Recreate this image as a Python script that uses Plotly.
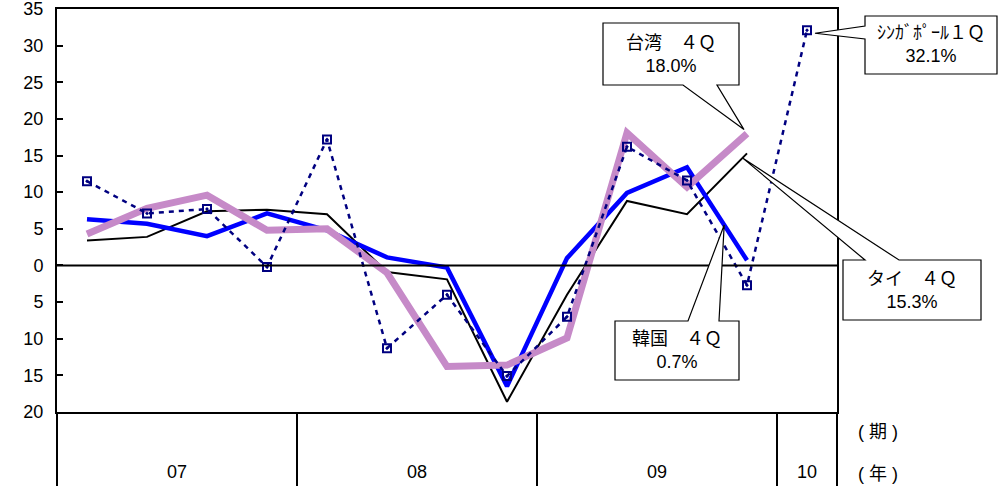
import plotly.graph_objects as go

# ---- data ----
years = ["07", "08", "09", "10"]
quarters_per_year = [4, 4, 4, 1]
thailand = [3.4, 3.9, 7.4, 7.6, 7.0, -0.9, -1.9, -18.6, -4.0, 8.8, 7.0, 15.3]
korea = [6.3, 5.7, 4.0, 7.1, 4.8, 1.1, -0.3, -16.5, 1.0, 9.9, 13.4, 0.7]
taiwan = [4.3, 7.8, 9.6, 4.8, 5.0, -1.0, -13.8, -13.6, -9.9, 18.1, 10.7, 18.0]
singapore = [11.5, 7.1, 7.7, -0.2, 17.2, -11.3, -4.0, -15.1, -7.0, 16.2, 11.6, -2.7, 32.1]
y_ticks = list(range(-20, 40, 5))
y_ticktext = [str(abs(v)) for v in y_ticks]

W, H = 998, 488
ML, MT = 57, 9
PW, PH = 780, 403
MR, MB = W - ML - PW, H - MT - PH
NQ = sum(quarters_per_year)
YMIN, YMAX = -20, 35

FONT = "Liberation Sans, Arial, Noto Sans CJK JP, sans-serif"

fig = go.Figure()
xi = lambda n: list(range(n))
fig.add_trace(go.Scatter(x=xi(len(thailand)), y=thailand, mode="lines",
                         line=dict(color="black", width=2), name="タイ"))
fig.add_trace(go.Scatter(x=xi(len(korea)), y=korea, mode="lines",
                         line=dict(color="#0000FF", width=4.5), name="韓国"))
fig.add_trace(go.Scatter(x=xi(len(taiwan)), y=taiwan, mode="lines",
                         line=dict(color="#C68AC8", width=7), name="台湾"))
fig.add_trace(go.Scatter(x=xi(len(singapore)), y=singapore, mode="lines+markers",
                         line=dict(color="#000080", width=2.5, dash="5px,5px"),
                         marker=dict(symbol="square-open-dot", size=8, color="#000080",
                                     line=dict(width=2, color="#000080")),
                         name="シンガポール"))

# helpers: screen pixel -> paper, data -> screen pixel
def ppx(x):
    return (x - ML) / PW

def ppy(y):
    return (MT + PH - y) / PH

def dx(i):
    return ML + (i + 0.5) / NQ * PW

def dy(v):
    return MT + (YMAX - v) / (YMAX - YMIN) * PH

shapes = []
shapes.append(dict(type="line", xref="paper", yref="y", x0=0, x1=1, y0=0, y1=0,
                   line=dict(color="black", width=2)))
bounds = [0]
for q in quarters_per_year:
    bounds.append(bounds[-1] + q)
for b in bounds:
    xp = b / NQ
    shapes.append(dict(type="line", xref="paper", yref="paper", x0=xp, x1=xp,
                       y0=0, y1=ppy(486), line=dict(color="black", width=2)))

annotations = []

def label(x, y, text, size=18):
    annotations.append(dict(x=ppx(x), y=ppy(y), xref="paper", yref="paper", text=text,
                            showarrow=False, xanchor="center", yanchor="middle", align="center",
                            font=dict(size=size, color="black", family=FONT)))

for k, yr in enumerate(years):
    xc = (bounds[k] + bounds[k + 1]) / 2 / NQ
    label(ML + xc * PW, 472, yr)
label(878, 432, "( 期 )")
label(878, 474, "( 年 )")


def callout(box, side, base, tip, text):
    x0, y0, x1, y1 = box
    tx, ty = tip
    if side == "bottom":
        pts = [(x0, y0), (x1, y0), (x1, y1), (base[1], y1), (tx, ty), (base[0], y1), (x0, y1)]
    elif side == "top":
        pts = [(x0, y0), (base[0], y0), (tx, ty), (base[1], y0), (x1, y0), (x1, y1), (x0, y1)]
    else:  # left
        pts = [(x0, y0), (x1, y0), (x1, y1), (x0, y1), (x0, base[1]), (tx, ty), (x0, base[0])]
    path = "M " + " L ".join(f"{ppx(x):.5f},{ppy(y):.5f}" for x, y in pts) + " Z"
    shapes.append(dict(type="path", xref="paper", yref="paper", path=path,
                       fillcolor="white", line=dict(color="black", width=1.2), layer="above"))
    label((x0 + x1) / 2, (y0 + y1) / 2, text, 18)


last = len(taiwan) - 1
callout((603, 23, 739, 85), "bottom", (683, 717),
        (dx(last) - 3, dy(taiwan[last]) - 4), f"台湾　４Ｑ<br>{taiwan[last]:.1f}%")
sl = len(singapore) - 1
callout((865, 16, 997, 74), "left", (26, 39),
        (dx(sl) + 8, dy(singapore[sl]) + 3), f"ｼﾝｶﾞﾎﾟｰﾙ１Ｑ<br>{singapore[sl]:.1f}%")
tl = len(thailand) - 1
callout((843, 260, 981, 320), "top", (865, 899),
        (dx(tl) - 4, dy(thailand[tl]) + 5), f"タイ　４Ｑ<br>{thailand[tl]:.1f}%")
kl = len(korea) - 1
f = 0.62
tipv = korea[kl - 1] + f * (korea[kl] - korea[kl - 1])
callout((615, 321, 739, 380), "top", (688, 719),
        (dx(kl - 1 + f), dy(tipv)), f"韓国　４Ｑ<br>{korea[kl]:.1f}%")

fig.update_layout(
    width=W, height=H,
    margin=dict(l=ML, r=MR, t=MT, b=MB, pad=0, autoexpand=False),
    paper_bgcolor="white", plot_bgcolor="white",
    showlegend=False,
    font=dict(family=FONT, size=18, color="black"),
    shapes=shapes, annotations=annotations,
    xaxis=dict(range=[-0.5, NQ - 0.5], showticklabels=False, showgrid=False, zeroline=False,
               showline=True, mirror=True, linecolor="black", linewidth=2, ticks="",
               automargin=False),
    yaxis=dict(range=[YMIN, YMAX], tickvals=y_ticks, ticktext=y_ticktext, showgrid=False,
               zeroline=False, showline=True, mirror=True, linecolor="black", linewidth=2,
               ticks="inside", ticklen=6, tickcolor="black", tickwidth=1.5,
               tickfont=dict(size=18, family=FONT, color="black"), ticklabelstandoff=8,
               ticklabeloverflow="allow", automargin=False),
)

fig.write_html("out.html", config={"displayModeBar": False},
               post_script="document.body.style.margin='0px';")
